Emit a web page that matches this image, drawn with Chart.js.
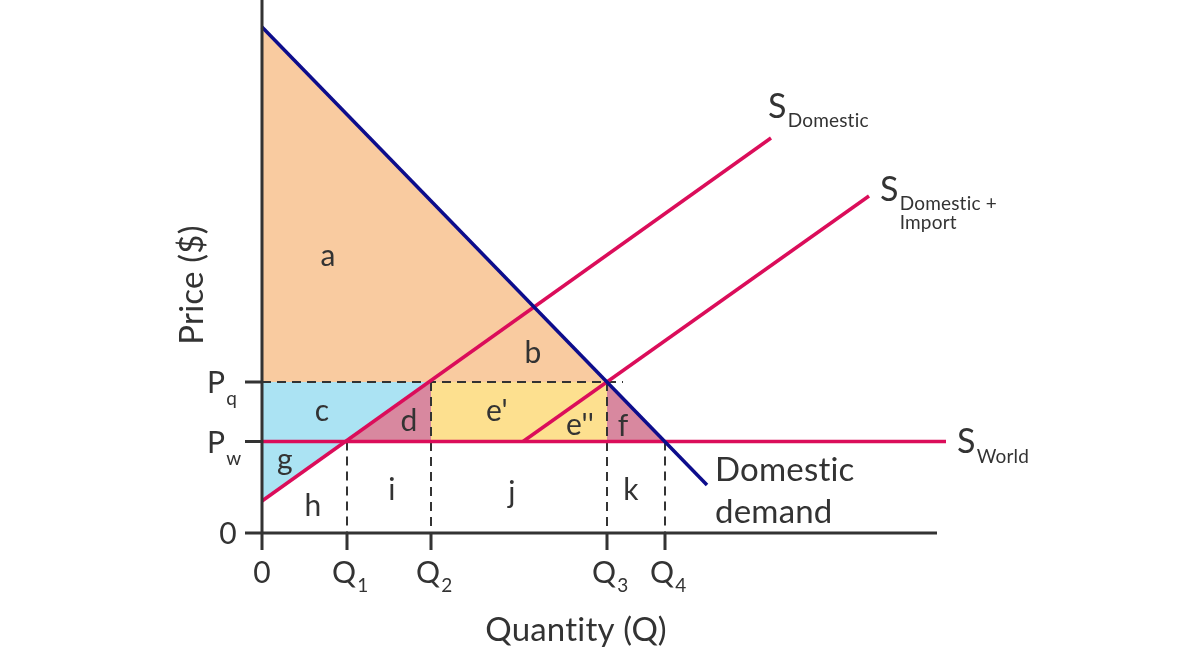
<!DOCTYPE html>
<html>
<head>
<meta charset="utf-8">
<script src="https://cdn.jsdelivr.net/npm/chart.js@4.4.0/dist/chart.umd.min.js"></script>
<style>
  html, body { margin: 0; padding: 0; background: #fff; }
</style>
</head>
<body>
<canvas id="tariff" width="1200" height="652"></canvas>
<script>
// quantity and price marks on the axes
var qLabels = ['0', 'Q1', 'Q2', 'Q3', 'Q4'];
var qValues = [0, 8.5, 16.9, 34.5, 40.3];
var pLabels = ['0', 'Pw', 'Pq'];
var pValues = [0, 9.15, 15.1];

// curves, as [quantity, price] end points
var demand = [[0, 50.6], [44.5, 4.8]];
var supplyDomestic = [[0, 3.2], [50.9, 39.5]];
var supplyImport = [[26.1, 9.15], [60.7, 33.7]];
var supplyWorld = [[0, 9.15], [68.4, 9.15]];

// area letters
var areaNames = ['a', 'b', 'c', 'd', "e'", "e''", 'f', 'g', 'h', 'i', 'j', 'k'];
var areaSpots = [[6.6, 27.7], [27.1, 18.0], [6.0, 12.2], [14.7, 11.2], [23.5, 12.2], [31.8, 10.8],
                 [36.1, 10.7], [2.3, 7.3], [5.1, 2.7], [13.0, 4.3], [25.0, 4.0], [36.9, 4.3]];

var Q1 = qValues[1], Q2 = qValues[2], Q3 = qValues[3], Q4 = qValues[4];
var Pw = pValues[1], Pq = pValues[2];

var ink = '#333333';
var red = '#db0d5a';
var navy = '#0d0d8c';
var font = 'Lato, "Noto Sans", sans-serif';

function pts(list) {
  return list.map(function (p) { return { x: p[0], y: p[1] }; });
}

function curve(list, color) {
  return { data: pts(list), showLine: true, borderColor: color, borderWidth: 3.5,
           pointRadius: 0, fill: false, clip: false, borderCapStyle: 'butt' };
}

function area(list, color) {
  return { data: pts(list.concat([list[0]])), showLine: true, borderWidth: 0,
           borderColor: 'rgba(0,0,0,0)', backgroundColor: color, pointRadius: 0,
           fill: 'shape', clip: false, tension: 0 };
}

function dash(list) {
  return { data: pts(list), showLine: true, borderColor: ink, borderWidth: 2,
           borderDash: [9, 6], pointRadius: 0, fill: false, clip: false };
}

var datasets = [
  curve(demand, navy),
  curve(supplyDomestic, red),
  curve(supplyImport, red),
  curve(supplyWorld, red),
  dash([[0, Pq], [Q3 + 1.6, Pq]]),
  dash([[Q1, Pw], [Q1, 0]]),
  dash([[Q2, Pq], [Q2, 0]]),
  dash([[Q3, Pq], [Q3, 0]]),
  dash([[Q4, Pw], [Q4, 0]]),
  area([[0, demand[0][1]], [Q3, Pq], [0, Pq]], '#f9cba0'),
  area([[0, Pq], [Q2, Pq], [0, supplyDomestic[0][1]]], '#abe3f3'),
  area([[Q1, Pw], [Q2, Pq], [Q2, Pw]], '#d8889f'),
  area([[Q2, Pw], [Q2, Pq], [Q3, Pq], [Q3, Pw]], '#fde08f'),
  area([[Q3, Pw], [Q3, Pq], [Q4, Pw]], '#d8889f')
];

function subText(ctx, x, y, main, sub, size, subSize, dy) {
  ctx.font = size + 'px ' + font;
  ctx.textAlign = 'left';
  ctx.textBaseline = 'alphabetic';
  ctx.fillText(main, x, y);
  var w = ctx.measureText(main).width;
  ctx.font = subSize + 'px ' + font;
  var lines = sub.split('\n');
  for (var i = 0; i < lines.length; i++) {
    ctx.fillText(lines[i], x + w + 1, y + dy + i * subSize);
  }
}

var drawing = {
  id: 'drawing',
  afterDatasetsDraw: function (chart) {
    var ctx = chart.ctx;
    var xs = chart.scales.x, ys = chart.scales.y;
    var x0 = xs.getPixelForValue(0), y0 = ys.getPixelForValue(0);
    ctx.save();
    ctx.letterSpacing = '0.2px';
    ctx.strokeStyle = ink;
    ctx.lineWidth = 3;
    ctx.beginPath();
    ctx.moveTo(x0, ys.getPixelForValue(ys.max));
    ctx.lineTo(x0, y0 + 17);
    ctx.moveTo(x0 - 17, y0);
    ctx.lineTo(xs.getPixelForValue(67.5), y0);
    for (var i = 1; i < qValues.length; i++) {
      var qx = xs.getPixelForValue(qValues[i]);
      ctx.moveTo(qx, y0);
      ctx.lineTo(qx, y0 + 17);
    }
    for (var j = 1; j < pValues.length; j++) {
      var py = ys.getPixelForValue(pValues[j]);
      ctx.moveTo(x0 - 17, py);
      ctx.lineTo(x0, py);
    }
    ctx.stroke();

    ctx.fillStyle = ink;
    // x tick labels
    for (var k = 0; k < qLabels.length; k++) {
      var tx = xs.getPixelForValue(qValues[k]);
      if (k === 0) {
        ctx.font = '30px ' + font;
        ctx.textAlign = 'center';
        ctx.fillText(qLabels[k], tx, y0 + 50);
      } else {
        subText(ctx, tx - 15, y0 + 50, qLabels[k].charAt(0), qLabels[k].slice(1), 30, 19, 9);
      }
    }
    // y tick labels
    for (var m = 0; m < pLabels.length; m++) {
      var ty = ys.getPixelForValue(pValues[m]);
      if (m === 0) {
        ctx.font = '30px ' + font;
        ctx.textAlign = 'center';
        ctx.fillText(pLabels[m], x0 - 34, ty + 11);
      } else {
        subText(ctx, x0 - 55, ty + 11, pLabels[m].charAt(0), pLabels[m].slice(1), 30, 19, 12);
      }
    }

    // axis titles
    ctx.font = '33px ' + font;
    ctx.textAlign = 'center';
    ctx.textBaseline = 'middle';
    ctx.fillText('Quantity (Q)', 576, 630);
    ctx.save();
    ctx.translate(192, 285);
    ctx.rotate(-Math.PI / 2);
    ctx.fillText('Price ($)', 0, 0);
    ctx.restore();

    // area letters
    ctx.font = '30px ' + font;
    for (var n = 0; n < areaNames.length; n++) {
      ctx.fillText(areaNames[n], xs.getPixelForValue(areaSpots[n][0]), ys.getPixelForValue(areaSpots[n][1]));
    }

    // curve names
    ctx.textAlign = 'left';
    ctx.font = '33px ' + font;
    var dEnd = demand[1];
    var dx = xs.getPixelForValue(dEnd[0]) + 8, dy = ys.getPixelForValue(dEnd[1]);
    ctx.fillText('Domestic', dx, dy - 15);
    ctx.fillText('demand', dx, dy + 27);

    var sd = supplyDomestic[1];
    subText(ctx, xs.getPixelForValue(sd[0]) - 3, ys.getPixelForValue(sd[1]) - 20, 'S', 'Domestic', 34, 19, 9);
    var si = supplyImport[1];
    subText(ctx, xs.getPixelForValue(si[0]) + 11, ys.getPixelForValue(si[1]) + 5, 'S', 'Domestic +\nImport', 34, 19, 9);
    var sw = supplyWorld[1];
    subText(ctx, xs.getPixelForValue(sw[0]) + 11, ys.getPixelForValue(sw[1]) + 11, 'S', 'World', 34, 19, 10);
    ctx.restore();
  }
};

new Chart(document.getElementById('tariff').getContext('2d'), {
  type: 'scatter',
  data: { datasets: datasets },
  options: {
    responsive: false,
    animation: false,
    devicePixelRatio: 1,
    layout: { padding: { left: 262, right: 254, top: 0, bottom: 119 } },
    plugins: { legend: { display: false }, tooltip: { enabled: false } },
    scales: {
      x: { type: 'linear', display: false, min: 0, max: 68.4 },
      y: { type: 'linear', display: false, min: 0, max: 53.3 }
    }
  },
  plugins: [drawing]
});
</script>
</body>
</html>
